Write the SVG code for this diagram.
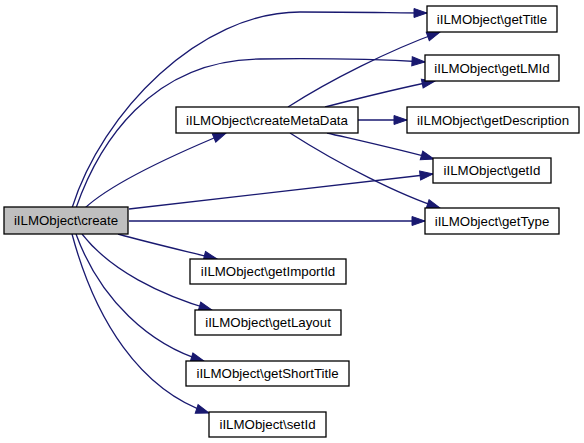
<svg xmlns="http://www.w3.org/2000/svg" width="584" height="443" viewBox="0 0 584 443">
<style>
.n rect{fill:#ffffff;stroke:#000000;stroke-width:1.3}
.n.cur rect{fill:#bfbfbf}
.n text{font-family:"Liberation Sans",Arial,Helvetica,sans-serif;font-size:13.3px;text-anchor:middle;fill:#000000}
.e path{fill:none;stroke:#191970;stroke-width:1.3;marker-end:url(#ah)}
</style>
<defs>
<marker id="ah" markerUnits="userSpaceOnUse" markerWidth="15" markerHeight="11" refX="13" refY="4.5" orient="auto" overflow="visible">
<path d="M0,0 L13,4.5 L0,9 Z" fill="#191970" stroke="#191970" stroke-width="1"/>
</marker>
</defs>
<rect x="0" y="0" width="584" height="443" fill="#ffffff"/>
<g id="edges" class="e">
<path d="M72,208 C102,112 200,12 300,12 C360,12 400,13 427,13"/>
<path d="M76,208 C98,145 150,60 260,59 C330,58 390,60 425,62"/>
<path d="M85,208 C115,180 185,150 226,133"/>
<path d="M129,209 L433,174"/>
<path d="M129,221 L425,221"/>
<path d="M118,234 C150,243 185,251 217,259"/>
<path d="M82,234 C110,270 160,295 212,310"/>
<path d="M76,234 C100,300 150,345 204,361"/>
<path d="M72,234 C95,320 140,390 209,413"/>
<path d="M288,107 C330,80 390,50 440,32"/>
<path d="M325,107 C360,98 400,88 435,81"/>
<path d="M358,120 L407,120"/>
<path d="M327,133 C370,143 410,152 434,159"/>
<path d="M290,133 C340,165 400,195 440,208"/>
</g>
<g id="node_create" class="n cur"><rect x="4" y="207" width="124" height="27"/><text x="66" y="225.2">iILMObject\create</text></g>
<g id="node_createMetaData" class="n"><rect x="176" y="107" width="182" height="26"/><text x="267" y="124.7">iILMObject\createMetaData</text></g>
<g id="node_getTitle" class="n"><rect x="427" y="6" width="130" height="26"/><text x="492" y="23.7">iILMObject\getTitle</text></g>
<g id="node_getLMId" class="n"><rect x="425" y="55" width="134" height="26"/><text x="492" y="72.7">iILMObject\getLMId</text></g>
<g id="node_getDescription" class="n"><rect x="407" y="107" width="172" height="26"/><text x="493" y="124.7">iILMObject\getDescription</text></g>
<g id="node_getId" class="n"><rect x="433" y="158" width="118" height="25"/><text x="492" y="175.2">iILMObject\getId</text></g>
<g id="node_getType" class="n"><rect x="425" y="208" width="134" height="26"/><text x="492" y="225.7">iILMObject\getType</text></g>
<g id="node_getImportId" class="n"><rect x="190" y="259" width="156" height="25"/><text x="268" y="276.2">iILMObject\getImportId</text></g>
<g id="node_getLayout" class="n"><rect x="195" y="310" width="146" height="25"/><text x="268" y="327.2">iILMObject\getLayout</text></g>
<g id="node_getShortTitle" class="n"><rect x="186" y="361" width="163" height="25"/><text x="267.5" y="378.2">iILMObject\getShortTitle</text></g>
<g id="node_setId" class="n"><rect x="209" y="412" width="117" height="25"/><text x="267.5" y="429.2">iILMObject\setId</text></g>
</svg>
